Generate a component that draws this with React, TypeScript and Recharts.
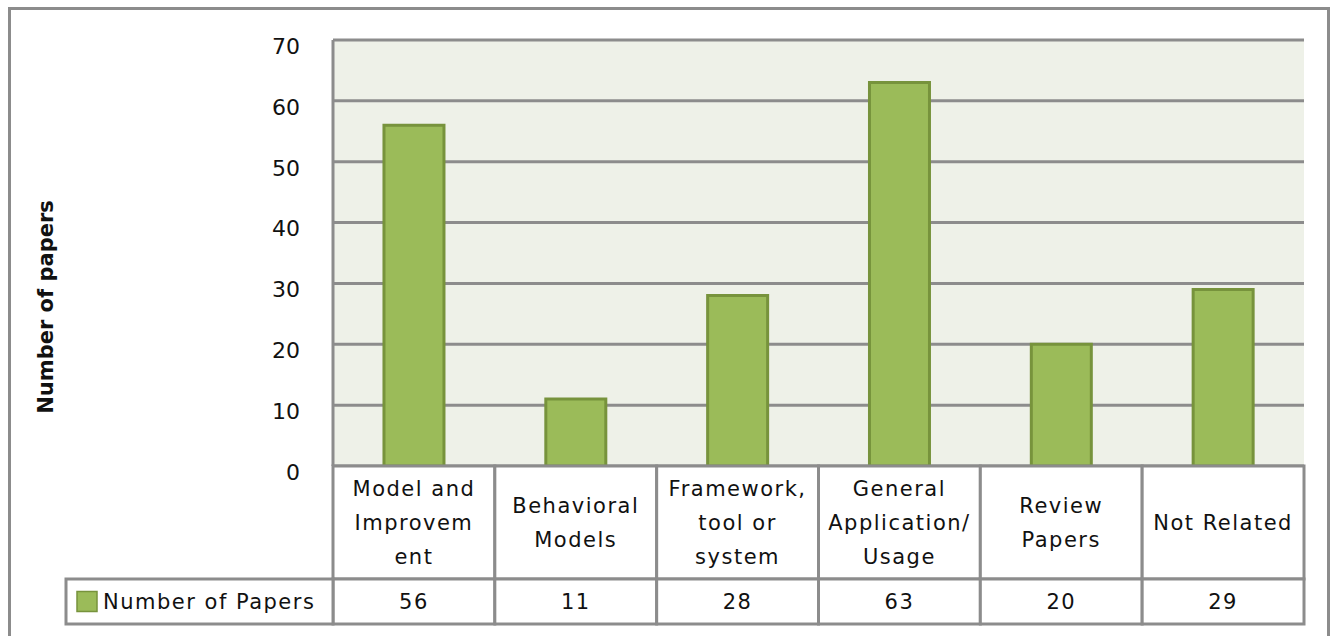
import React from "react";
import { Bar, BarChart, CartesianGrid, XAxis, YAxis } from "recharts";

const categories = [
  "Model and Improvement",
  "Behavioral Models",
  "Framework, tool or system",
  "General Application/ Usage",
  "Review Papers",
  "Not Related",
];

// how the labels wrap inside the table cells
const categoryLines = [
  ["Model and", "Improvem", "ent"],
  ["Behavioral", "Models"],
  ["Framework,", "tool or", "system"],
  ["General", "Application/", "Usage"],
  ["Review", "Papers"],
  ["Not Related"],
];

const paperCounts = [56, 11, 28, 63, 20, 29];
const yTicks = [0, 10, 20, 30, 40, 50, 60, 70];
const seriesName = "Number of Papers";

const data = categories.map((name, i) => ({
  name,
  lines: categoryLines[i],
  value: paperCounts[i],
}));

const FONT = "'DejaVu Sans', sans-serif";
const BORDER = "#8c8c8c";
const BAR_FILL = "#9bbb59";
const BAR_STROKE = "#77933c";
const TEXT = "#111";
const LABEL_ROW_H = 113;
const VALUE_ROW_H = 45;
const LINE_H = 34;

function TableTick(props: any) {
  const { x, y, payload, index } = props;
  const half = payload?.offset || props.width / categories.length / 2;
  const w = half * 2;
  const left = x - half;
  const item = data[index];
  const lines = item.lines;
  const midY = y + LABEL_ROW_H / 2;
  const firstY = midY - ((lines.length - 1) * LINE_H) / 2;
  const valueY = y + LABEL_ROW_H + VALUE_ROW_H / 2;
  const textProps = {
    dominantBaseline: "central" as const,
    fontFamily: FONT,
    fontSize: 21,
    letterSpacing: 1.5,
    fill: TEXT,
  };
  return (
    <g>
      <rect x={left} y={y} width={w} height={LABEL_ROW_H} fill="#fff" stroke={BORDER} strokeWidth={3} />
      <rect
        x={left}
        y={y + LABEL_ROW_H}
        width={w}
        height={VALUE_ROW_H}
        fill="#fff"
        stroke={BORDER}
        strokeWidth={3}
      />
      {lines.map((ln: string, k: number) => (
        <text key={k} x={x} y={firstY + k * LINE_H} textAnchor="middle" {...textProps}>
          {ln}
        </text>
      ))}
      <text x={x} y={valueY} textAnchor="middle" {...textProps}>
        {item.value}
      </text>
      {index === 0 && (
        <g>
          <rect
            x={left - 267}
            y={y + LABEL_ROW_H}
            width={267}
            height={VALUE_ROW_H}
            fill="#fff"
            stroke={BORDER}
            strokeWidth={3}
          />
          <rect
            x={left - 256}
            y={valueY - 10}
            width={20}
            height={20}
            fill={BAR_FILL}
            stroke={BAR_STROKE}
            strokeWidth={1.5}
          />
          <text x={left - 230} y={valueY} {...textProps}>
            {seriesName}
          </text>
        </g>
      )}
    </g>
  );
}

function YTitle(props: any) {
  const { viewBox } = props;
  const cx = 46;
  const cy = viewBox.y + viewBox.height / 2 + 54;
  return (
    <text
      x={cx}
      y={cy}
      transform={`rotate(-90 ${cx} ${cy})`}
      textAnchor="middle"
      dominantBaseline="central"
      fontFamily={FONT}
      fontWeight="bold"
      fontSize={21}
      fill={TEXT}
    >
      Number of papers
    </text>
  );
}

export default function App() {
  return (
    <div style={{ position: "absolute", left: 0, top: 0, width: 1338, height: 636, background: "#fff" }}>
      <div
        style={{
          position: "absolute",
          left: 8,
          top: 7,
          width: 1322,
          height: 640,
          border: `3px solid ${BORDER}`,
          boxSizing: "border-box",
        }}
      />
      <div style={{ position: "absolute", left: 0, top: 0 }}>
        <BarChart
          width={1338}
          height={636}
          data={data}
          margin={{ top: 40, right: 34, left: 0, bottom: 0 }}
          barCategoryGap="31.5%"
        >
          <CartesianGrid
            vertical={false}
            stroke={BORDER}
            strokeWidth={3}
            fill="#eef1e8"
            fillOpacity={1}
          />
          <YAxis
            domain={[0, 70]}
            ticks={yTicks}
            interval={0}
            width={333}
            axisLine={{ stroke: BORDER, strokeWidth: 3 }}
            tickLine={false}
            tickMargin={27}
            tick={{ fontFamily: FONT, fontSize: 22, fill: TEXT, dy: 6 }}
            label={<YTitle />}
          />
          <XAxis
            dataKey="name"
            height={170}
            interval={0}
            axisLine={false}
            tickLine={false}
            tickSize={0}
            tickMargin={0}
            tick={<TableTick />}
          />
          <Bar
            dataKey="value"
            fill={BAR_FILL}
            stroke={BAR_STROKE}
            strokeWidth={3}
            isAnimationActive={false}
          />
        </BarChart>
      </div>
    </div>
  );
}
